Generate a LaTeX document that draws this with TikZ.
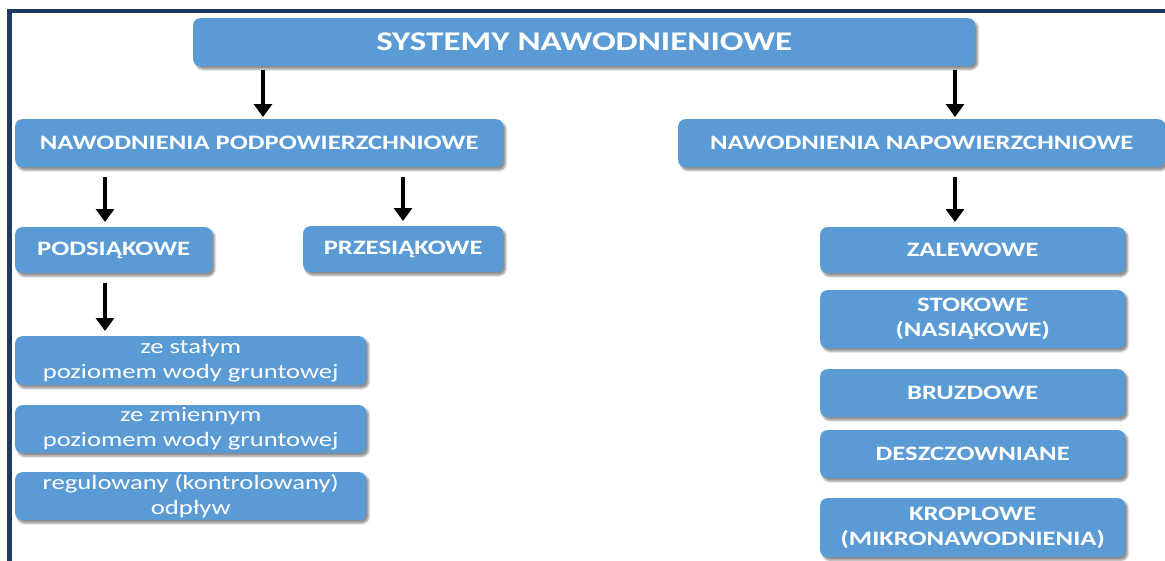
\documentclass[tikz,border=0pt]{standalone}
\usepackage{fontspec}
\setmainfont{Carlito}[FakeStretch=1.3]
\usetikzlibrary{arrows.meta,shadows.blur}
\definecolor{boxblue}{HTML}{5B9BD5}
\definecolor{framenavy}{HTML}{1F3A5F}
\begin{document}
\begin{tikzpicture}[x=1pt, y=-1pt,
    main/.style = {fill=boxblue, rounded corners=7pt, anchor=north west, text=white, align=center, inner sep=0pt,
      font=\fontsize{20.5}{25}\selectfont\bfseries,
      blur shadow={shadow xshift=2.5pt, shadow yshift=-3pt, shadow blur steps=6, shadow opacity=45}},
    low/.style = {main, font=\fontsize{20.5}{25}\selectfont},
    arr/.style = {line width=4pt, -{Triangle[width=18pt,length=13pt]}, shorten <=10pt, shorten >=5pt}]
    \useasboundingbox (0,0) rectangle (1165,560);
    \draw[framenavy, line width=4.5pt] (9.5,562) |- (1167,11);
    \node[main, minimum width=782pt, minimum height=48pt, font=\fontsize{27}{30}\selectfont\bfseries] (sys) at (193,18) {SYSTEMY NAWODNIENIOWE};
    \node[main, minimum width=488pt, minimum height=48pt] (podp) at (15,119) {NAWODNIENIA PODPOWIERZCHNIOWE};
    \node[main, minimum width=487pt, minimum height=48pt] (nap) at (678,119) {NAWODNIENIA NAPOWIERZCHNIOWE};
    \node[main, minimum width=197pt, minimum height=46pt] (pods) at (15,227) {PODSIĄKOWE};
    \node[main, minimum width=200pt, minimum height=46pt] (prz) at (303,226) {PRZESIĄKOWE};
    \node[low, minimum width=351pt, minimum height=49pt] (stal) at (15,336) {ze stałym\\poziomem wody gruntowej};
    \node[low, minimum width=351pt, minimum height=48pt] (zmien) at (15,405) {ze zmiennym\\poziomem wody gruntowej};
    \node[low, minimum width=351pt, minimum height=48pt] (reg) at (15,472) {regulowany (kontrolowany)\\odpływ};
    \node[main, minimum width=305pt, minimum height=46pt] (zal) at (820,227) {ZALEWOWE};
    \node[main, minimum width=305pt, minimum height=58pt] (stok) at (820,290) {STOKOWE\\(NASIĄKOWE)};
    \node[main, minimum width=305pt, minimum height=48pt] (bruz) at (820,369) {BRUZDOWE};
    \node[main, minimum width=305pt, minimum height=48pt] (desz) at (820,430) {DESZCZOWNIANE};
    \node[main, minimum width=305pt, minimum height=59pt] (krop) at (820,498) {KROPLOWE\\(MIKRONAWODNIENIA)};
    % arrow columns
    \coordinate (c1) at (263,0);
    \coordinate (c2) at (955,0);
    \coordinate (c3) at (105,0);
    \coordinate (c4) at (403,0);
    \draw[arr, shorten <=4pt, shorten >=2pt] (sys.south -| c1) -- (podp.north -| c1);
    \draw[arr, shorten <=4pt, shorten >=2pt] (sys.south -| c2) -- (nap.north -| c2);
    \draw[arr] (podp.south -| c3) -- (pods.north -| c3);
    \draw[arr] (podp.south -| c4) -- (prz.north -| c4);
    \draw[arr] (nap.south -| c2) -- (zal.north -| c2);
    \draw[arr] (pods.south -| c3) -- (stal.north -| c3);
\end{tikzpicture}
\end{document}
